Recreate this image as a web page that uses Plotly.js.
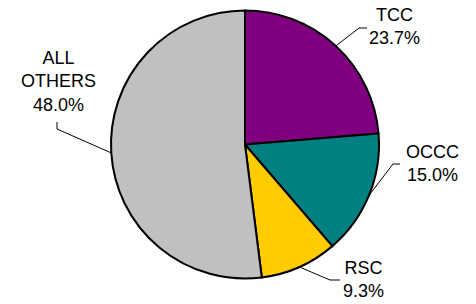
<!DOCTYPE html>
<html>
<head>
<meta charset="utf-8">
<script src="https://cdn.plot.ly/plotly-3.0.1.min.js"></script>
<style>html,body{margin:0;padding:0;background:#fff;}#chart{width:476px;height:304px;}</style>
</head>
<body>
<div id="chart"></div>
<script>
// ---- data ----
const categories = ['TCC', 'OCCC', 'RSC', 'ALL OTHERS'];
const labelLines = ['TCC', 'OCCC', 'RSC', 'ALL<br>OTHERS'];
const shares = [23.7, 15.0, 9.3, 52.0];           // slice sizes as drawn
const shownPct = ['23.7%', '15.0%', '9.3%', '48.0%']; // percentages printed on the chart
const colors = ['#800080', '#008080', '#FFCC00', '#C0C0C0'];

// ---- layout geometry (pixels) ----
const W = 476, H = 304;
const cx = 245, cy = 144.5, R = 134;
// leader elbow / end and label centre for each slice
const elbows = [[359, 28], [393, 164], [330, 280], [57, 129]];
const ends   = [[367, 28], [400, 164], [340, 280], [57, 122]];
const textPos = [[394, 27], [432, 163], [363, 279], [58, 81]];

const px = x => x / W;
const py = y => 1 - y / H;

// mid-angles from the data
const total = shares.reduce((a, b) => a + b, 0);
let cum = 0;
const shapes = [], annotations = [];
shares.forEach((v, i) => {
  const mid = (cum + v / 2) / total * 2 * Math.PI;
  cum += v;
  const ex = cx + R * Math.sin(mid), ey = cy - R * Math.cos(mid);
  const path = `M ${px(ex)},${py(ey)} L ${px(elbows[i][0])},${py(elbows[i][1])} L ${px(ends[i][0])},${py(ends[i][1])}`;
  shapes.push({type: 'path', xref: 'paper', yref: 'paper', path: path,
               line: {color: '#000', width: 1}});
  annotations.push({xref: 'paper', yref: 'paper', x: px(textPos[i][0]), y: py(textPos[i][1]),
    xanchor: 'center', yanchor: 'middle', showarrow: false,
    text: labelLines[i] + '<br>' + shownPct[i],
    font: {family: 'Liberation Sans, Arial, sans-serif', size: 18, color: '#000'}});
});

const trace = {
  type: 'pie',
  labels: categories,
  values: shares,
  sort: false,
  direction: 'clockwise',
  rotation: 0,
  textinfo: 'none',
  hoverinfo: 'none',
  marker: {colors: colors, line: {color: '#000', width: 2}},
  domain: {x: [(cx - R) / W, (cx + R) / W], y: [(H - cy - R) / H, (H - cy + R) / H]},
  showlegend: false
};

const layout = {
  width: W, height: H,
  margin: {l: 0, r: 0, t: 0, b: 0},
  paper_bgcolor: '#fff', plot_bgcolor: '#fff',
  showlegend: false,
  shapes: shapes,
  annotations: annotations
};

Plotly.newPlot('chart', [trace], layout, {displayModeBar: false, staticPlot: true});
</script>
</body>
</html>
